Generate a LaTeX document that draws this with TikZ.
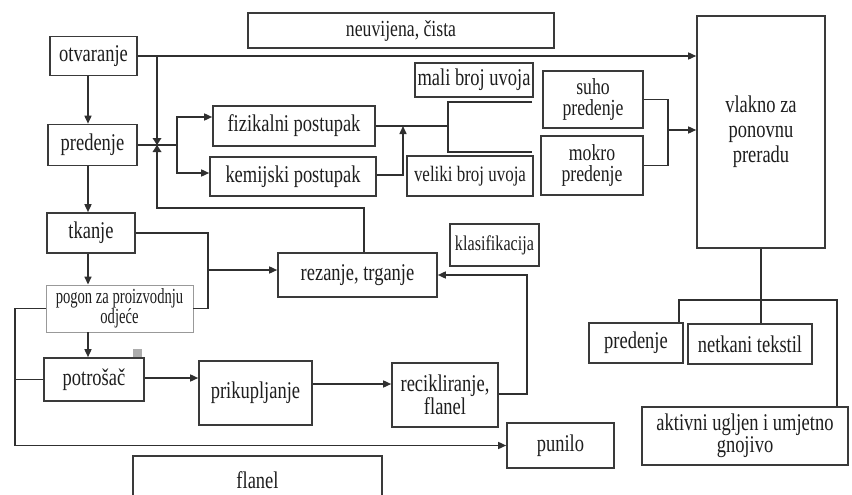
\documentclass[tikz,border=0pt]{standalone}
\usepackage{fontspec}
\setmainfont{Liberation Serif}[FakeStretch=0.77]
\newfontfamily\narrowserif{Liberation Serif}[FakeStretch=0.68]
\usetikzlibrary{arrows.meta}
\definecolor{boxc}{HTML}{3A3A3A}
\definecolor{linec}{HTML}{303030}
\definecolor{txtc}{HTML}{1E1E1E}
\begin{document}
\begin{tikzpicture}[x=1pt,y=-1pt,
  box/.style={draw=boxc, line width=1.6pt, fill=white, inner sep=0pt, align=center,
    text=txtc, font=\fontsize{24}{24}\selectfont},
  link/.style={draw=linec, line width=1.5pt},
  arr/.style={link, -{Triangle[length=8pt,width=7pt]}},
]
\useasboundingbox (0,0) rectangle (852,495);
\clip (0,0) rectangle (852,495);
\fill[white] (0,0) rectangle (852,495);

% boxes
\node[box, minimum width=87pt, minimum height=39pt] (otv) at (93.5,56) {otvaranje};
\node[box, minimum width=306pt, minimum height=35pt, font=\fontsize{23}{24}\selectfont] (neu) at (401,30.5) {neuvijena, čista};
\node[box, minimum width=89pt, minimum height=41pt] (pre1) at (92.5,145) {predenje};
\node[box, minimum width=162pt, minimum height=40pt] (fiz) at (294,126) {fizikalni postupak};
\node[box, minimum width=166pt, minimum height=39pt] (kem) at (293,176.5) {kemijski postupak};
\node[box, minimum width=118pt, minimum height=34pt] (mali) at (474,80) {mali broj uvoja};
\node[box, minimum width=126pt, minimum height=40pt, font=\fontsize{22}{24}\selectfont] (vel) at (470,176) {veliki broj uvoja};
\node[box, minimum width=100pt, minimum height=57pt, font=\fontsize{23}{21}\selectfont] (suho) at (593,99.5) {suho\\predenje};
\node[box, minimum width=102pt, minimum height=59pt, font=\fontsize{23}{21}\selectfont] (mok) at (592,165.5) {mokro\\predenje};
\node[box, minimum width=128pt, minimum height=232pt, font=\fontsize{24}{25}\selectfont] (vl) at (761,132) {vlakno za\\ponovnu\\preradu};
\node[box, minimum width=88pt, minimum height=40pt] (tk) at (91,233) {tkanje};
\node[box, minimum width=159pt, minimum height=44pt] (rez) at (357.5,275) {rezanje, trganje};
\node[box, minimum width=89pt, minimum height=42pt, font=\fontsize{21}{24}\selectfont] (kla) at (494.5,245) {klasifikacija};
\node[box, draw=gray!80, line width=0.9pt, minimum width=147pt, minimum height=47pt,
  font=\narrowserif\fontsize{21.5}{19}\selectfont] (pog) at (119.5,308.5) {pogon za proizvodnju\\odjeće};
\node[box, minimum width=100pt, minimum height=43pt] (pot) at (94,379.5) {potrošač};
\node[box, minimum width=113pt, minimum height=64pt] (pri) at (255.5,393) {prikupljanje};
\node[box, minimum width=106pt, minimum height=64pt, font=\fontsize{24}{21}\selectfont] (rec) at (445,395) {recikliranje,\\flanel};
\node[box, minimum width=107pt, minimum height=45pt] (pun) at (560.5,445.5) {punilo};
\node[box, minimum width=249pt, minimum height=48pt] (fla) at (257.5,480) {flanel};
\node[box, minimum width=94pt, minimum height=40pt] (pre2) at (636,343) {predenje};
\node[box, minimum width=124pt, minimum height=40pt] (net) at (750,344) {netkani tekstil};
\node[box, minimum width=206pt, minimum height=58pt, font=\fontsize{24}{21}\selectfont] (akt) at (745,436) {aktivni ugljen i umjetno\\gnojivo};

% small marker above the consumer box
\fill[gray!65] (133,349) rectangle (142,357);

% helper coordinates for connector routing
\coordinate (ax) at (88,0);
\coordinate (rv) at (157,0);
\coordinate (rt) at (0,208);
\coordinate (br) at (177,0);
\coordinate (up) at (403,0);
\coordinate (sp) at (448,0);
\coordinate (s1) at (532,102);
\coordinate (s2) at (532,152);
\coordinate (bx) at (668,0);
\coordinate (mid) at (668,130);
\coordinate (tx) at (208,0);
\coordinate (rj) at (208,270);
\coordinate (lx) at (15,0);
\coordinate (pp) at (0,378);
\coordinate (rr) at (0,384);
\coordinate (rx) at (527,0);
\coordinate (b1) at (679,300);
\coordinate (b2) at (837,300);

% main vertical chain
\draw[arr] (otv.south -| ax) -- (pre1.north -| ax);
\draw[arr] (pre1.south -| ax) -- (tk.north -| ax);
\draw[arr] (tk.south -| ax) -- (pog.north -| ax);
\draw[arr] (pog.south -| ax) -- (pot.north -| ax);

% opening straight to reprocessing fibre
\draw[arr] (otv.east) -- (otv.east -| vl.west);
% return line from cutting back up to the top line
\draw[link] (otv.east -| rv) -- (rv |- rt) -| ([xshift=6.5pt]rez.north);
% hourglass mark at the crossing
\fill[linec] (152.5,138) -- (161.5,138) -- (157,145) -- cycle;
\fill[linec] (152.5,152) -- (161.5,152) -- (157,145) -- cycle;

% spinning splits into physical / chemical
\draw[link] (pre1.east) -- (pre1.east -| br);
\draw[arr] (pre1.east -| br) |- ([yshift=9pt]fiz.west);
\draw[arr] (pre1.east -| br) |- ([yshift=3.5pt]kem.west);
\draw[arr] ([yshift=1.5pt]kem.east) -| (up |- fiz.east);

% twist branches
\draw[link] (fiz.east) -- (fiz.east -| sp);
\draw[link] (s1) -| (sp |- s2) -- (s2);

% dry / wet spinning into fibre
\draw[link] (suho.east) -| (bx |- mok.east) -- (mok.east);
\draw[arr] (mid) -- (mid -| vl.west);

% weaving and garment plant to cutting
\draw[link] (tk.east) -| (tx |- pog.east) -- (pog.east);
\draw[arr] (rj) -- (rj -| rez.west);

% left loop to filling
\draw[arr] (pog.west) -| (lx |- pun.west) -- (pun.west);
\draw[link] (pot.west) -- (pot.west -| lx);

% consumer, collection, recycling
\draw[arr] (pot.east |- pp) -- (pri.west |- pp);
\draw[arr] (pri.east |- rr) -- (rec.west |- rr);
\draw[arr] ([yshift=1pt]rec.east) -| (rx |- rez.east) -- (rez.east);

% fibre outputs
\draw[link] (vl.south) -- (vl.south |- net.north);
\draw[link] (pre2.north -| b1) -- (b1) -- (b2) -- (akt.north -| b2);
\end{tikzpicture}
\end{document}
